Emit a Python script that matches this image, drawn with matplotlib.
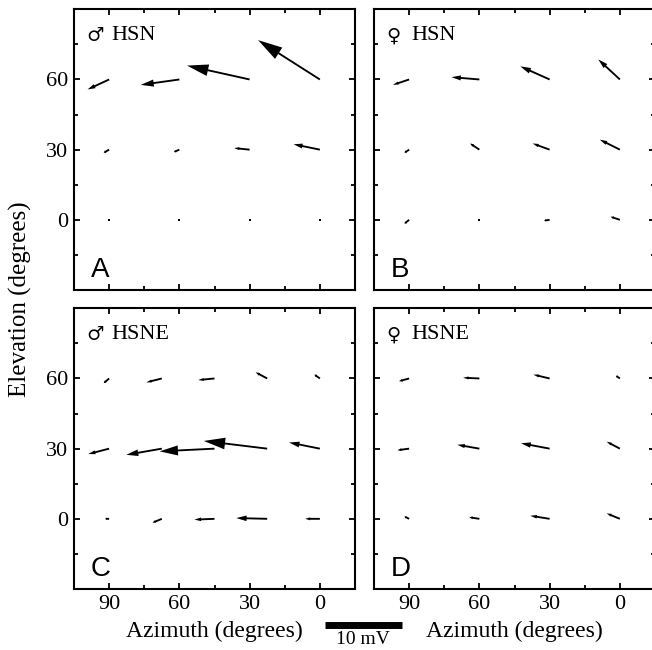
import matplotlib
matplotlib.use("Agg")
import matplotlib.pyplot as plt
import numpy as np

# grid of stimulus positions (degrees)
az_4 = [0, 30, 60, 90]
az_5 = [0, 22.5, 45, 67.5, 90]
elev = [0, 30, 60]

# response vectors in mV, rows = elevation 0, 30, 60; columns = azimuth
# h: horizontal component (towards larger azimuth), v: vertical component (up)
a_h = [[0, 0, 0, 0], [3.4, 2.0, 0.7, 0.7], [8.0, 8.1, 5.0, 2.8]]
a_v = [[0, 0, 0, 0], [0.7, 0.2, -0.3, -0.4], [5.1, 1.8, -0.7, -1.3]]

b_h = [[1.2, 0.7, 0, 0.6], [2.6, 2.2, 1.2, 0.6], [2.8, 3.8, 3.6, 2.1]]
b_v = [[0.4, -0.1, 0, -0.5], [1.3, 0.8, 0.8, -0.4], [2.6, 1.7, 0.3, -0.7]]

c_h = [[1.9, 4.0, 2.6, 1.2, 0.5], [4.0, 8.2, 7.1, 4.6, 2.7], [0.7, 1.5, 2.1, 2.0, 0.7]]
c_v = [[0, 0.1, -0.1, -0.5, 0], [0.8, 1.0, -0.35, -0.8, -0.7], [0.5, 0.8, -0.2, -0.5, -0.6]]

d_h = [[1.7, 2.5, 1.3, 0.6], [1.7, 3.7, 2.85, 1.5], [0.5, 2.1, 2.1, 1.3]]
d_v = [[0.7, 0.4, 0.2, 0.3], [0.9, 0.7, 0.5, -0.2], [0.35, 0.5, 0.1, -0.35]]

sexes = ["\u2642", "\u2640", "\u2642", "\u2640"]
cells = ["HSN", "HSN", "HSNE", "HSNE"]
letters = ["A", "B", "C", "D"]
scale_mv = 10
deg_per_mv = 3.3

serif = ["Liberation Serif", "DejaVu Serif", "DejaVu Sans"]
plt.rcParams["font.family"] = serif

W, H = 652, 650
fig = plt.figure(figsize=(W / 100, H / 100), dpi=100)

# panel boxes in pixels: left, top
boxes = [(74, 9.3), (374, 9.3), (74, 308.3), (374, 308.3)]
pw, ph = 281, 280.7

panels = [(az_4, a_h, a_v), (az_4, b_h, b_v), (az_5, c_h, c_v), (az_4, d_h, d_v)]

axes = []
for i, (left, top) in enumerate(boxes):
    ax = fig.add_axes([left / W, (H - top - ph) / H, pw / W, ph / H])
    axes.append(ax)
    az, hh, vv = panels[i]
    hh = np.array(hh) * deg_per_mv
    vv = np.array(vv) * deg_per_mv
    shaft = 0.8
    for r, e in enumerate(elev):
        for c, a in enumerate(az):
            dx, dy = hh[r, c], vv[r, c]
            L = np.hypot(dx, dy)
            if L == 0:
                ax.plot(a, e, marker="s", ms=1.7, color="k", mew=0)
                continue
            hl = L / 3
            hw = max(hl * 0.55, shaft * 1.6)
            ax.arrow(a, e, dx, dy, width=shaft, head_width=hw, head_length=hl,
                     length_includes_head=True, fc="k", ec="none")

    ax.set_xlim(105, -15)
    ax.set_ylim(-30, 90)
    ax.set_xticks([0, 30, 60, 90])
    ax.set_xticks([15, 45, 75], minor=True)
    ax.set_yticks([0, 30, 60])
    ax.set_yticks([-15, 15, 45, 75], minor=True)
    ax.tick_params(which="both", direction="in", top=True, right=True,
                   width=1.3, labelsize=16, pad=4)
    ax.tick_params(which="major", length=4)
    ax.tick_params(which="minor", length=3)
    for s in ax.spines.values():
        s.set_linewidth(1.5)
    if i in (1, 3):
        ax.tick_params(labelleft=False)
    if i in (0, 1):
        ax.tick_params(labelbottom=False)
    else:
        ax.set_xlabel("Azimuth (degrees)", fontsize=17, labelpad=5)

    ax.text(0.045, 0.905, sexes[i], transform=ax.transAxes, fontsize=14,
            family=["DejaVu Sans", "DejaVu Serif"], weight="ultralight",
            va="center", ha="left")
    ax.text(0.132, 0.905, cells[i], transform=ax.transAxes, fontsize=16,
            va="center", ha="left")
    ax.text(0.06, 0.045, letters[i], transform=ax.transAxes, fontsize=20,
            family=["Liberation Sans", "DejaVu Sans"], va="baseline", ha="left")

fig.text(20 / W, 1 - 299 / H, "Elevation (degrees)", rotation=90,
         fontsize=18, va="center", ha="center")

# 10 mV scale bar drawn in panel C data units
axc = axes[2]
x0 = -2
bar_len = scale_mv * deg_per_mv
axc.plot([x0, x0 - bar_len], [-45.6, -45.6], color="k", lw=5,
         solid_capstyle="butt", clip_on=False)
axc.text(x0 - bar_len / 2, -53.5, "10 mV", fontsize=14, ha="center",
         va="baseline", clip_on=False)

fig.savefig("out.png", dpi=100)
